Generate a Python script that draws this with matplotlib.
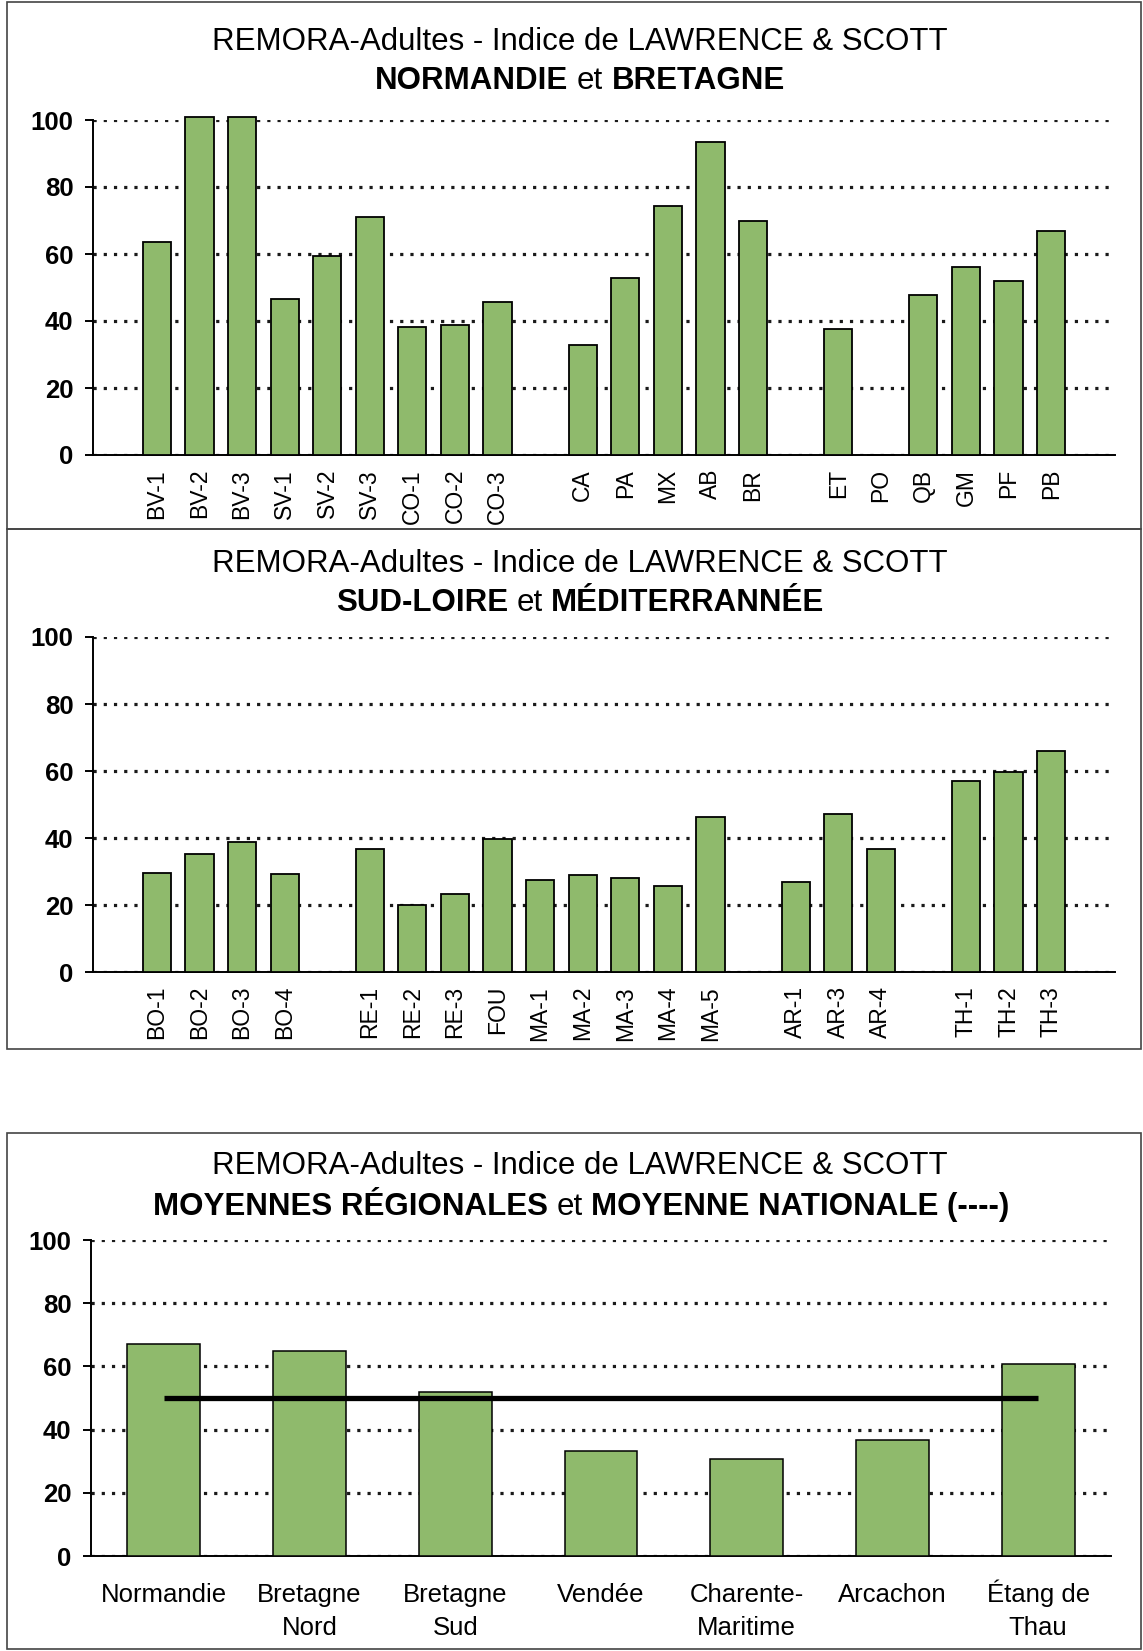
import numpy as np
import matplotlib.pyplot as plt
from matplotlib.offsetbox import TextArea, HPacker, AnchoredOffsetbox
from matplotlib.patches import Rectangle

plt.rcParams['font.family'] = ['Liberation Sans', 'DejaVu Sans']

W, H = 1143, 1651
GREEN = '#8fba6c'
nan = np.nan

# Normandie et Bretagne ('' = empty slot between groups)
nb_labels = ['', 'BV-1', 'BV-2', 'BV-3', 'SV-1', 'SV-2', 'SV-3', 'CO-1', 'CO-2', 'CO-3',
             '', 'CA', 'PA', 'MX', 'AB', 'BR',
             '', 'ET', 'PO', 'QB', 'GM', 'PF', 'PB', '']
nb_values = [nan, 63.5, 101, 101, 46.6, 59.4, 70.9, 38.1, 38.9, 45.8,
             nan, 32.8, 52.8, 74.4, 93.4, 69.8,
             nan, 37.6, 0, 47.7, 56.1, 51.8, 67.0, nan]

# Sud-Loire et Mediterranee
sm_labels = ['', 'BO-1', 'BO-2', 'BO-3', 'BO-4',
             '', 'RE-1', 'RE-2', 'RE-3', 'FOU', 'MA-1', 'MA-2', 'MA-3', 'MA-4', 'MA-5',
             '', 'AR-1', 'AR-3', 'AR-4',
             '', 'TH-1', 'TH-2', 'TH-3', '']
sm_values = [nan, 29.5, 35.2, 38.8, 29.3,
             nan, 36.6, 20.1, 23.2, 39.7, 27.4, 28.9, 28.0, 25.6, 46.3,
             nan, 26.9, 47.3, 36.7,
             nan, 57.0, 59.6, 66.1, nan]

# Moyennes regionales
regions = ['Normandie', 'Bretagne\nNord', 'Bretagne\nSud', 'Vendée',
           'Charente-\nMaritime', 'Arcachon', 'Étang de\nThau']
region_means = [67.0, 64.8, 52.0, 33.3, 30.6, 36.8, 60.9]
national_mean = 49.9

yticks = [0, 20, 40, 60, 80, 100]
TITLE_FS = 22.5

fig = plt.figure(figsize=(W / 100, H / 100), dpi=100)


def px_axes(left, right, top, bottom):
    return fig.add_axes([left / W, 1 - bottom / H, (right - left) / W, (bottom - top) / H])


def style_axes(ax):
    ax.set_ylim(0, 100)
    ax.set_yticks(yticks)
    ax.set_yticklabels([str(t) for t in yticks], fontsize=18.5, fontweight='bold')
    ax.yaxis.grid(True, color='#1a1a1a', linestyle=(0, (1, 2.2)), linewidth=2.3,
                  dash_capstyle='butt')
    ax.set_axisbelow(True)
    for s in ['top', 'right']:
        ax.spines[s].set_visible(False)
    for s in ['left', 'bottom']:
        ax.spines[s].set_color('black')
        ax.spines[s].set_linewidth(1.4)
    ax.tick_params(axis='y', direction='out', length=6, width=1.4, pad=8)
    ax.tick_params(axis='x', length=0)


def title(parts, y_px, x_px=580):
    boxes = [TextArea(s, textprops=dict(fontsize=TITLE_FS, fontweight=w)) for s, w in parts]
    pack = HPacker(children=boxes, align='baseline', pad=0, sep=6)
    box = AnchoredOffsetbox(loc='center', child=pack, pad=0, borderpad=0, frameon=False,
                            bbox_to_anchor=(x_px / W, 1 - y_px / H),
                            bbox_transform=fig.transFigure)
    fig.add_artist(box)


def station_panel(ax, labels, values):
    x = np.arange(len(labels))
    v = np.array(values, dtype=float)
    ok = ~np.isnan(v)
    ax.bar(x[ok], v[ok], width=0.66, color=GREEN, edgecolor='black', linewidth=1.3,
           clip_on=False, zorder=3)
    ax.set_xlim(-0.5, len(labels) - 0.5)
    style_axes(ax)
    ax.set_xticks(x)
    ax.set_xticklabels(labels, rotation=90, fontsize=16.5)
    ax.tick_params(axis='x', pad=10)


# panel frames
for top, bottom in [(2, 529), (529, 1049), (1133, 1649)]:
    fig.add_artist(Rectangle((7 / W, 1 - bottom / H), (1141 - 7) / W, (bottom - top) / H,
                             transform=fig.transFigure, fill=False,
                             edgecolor='#444444', linewidth=1.2))

head = 'REMORA-Adultes - Indice de LAWRENCE & SCOTT'

# panel 1
ax1 = px_axes(93, 1115, 120, 455)
station_panel(ax1, nb_labels, nb_values)
fig.text(580 / W, 1 - 42 / H, head, ha='center', va='center', fontsize=TITLE_FS)
title([('NORMANDIE', 'bold'), ('et', 'normal'), ('BRETAGNE', 'bold')], 81)

# panel 2
ax2 = px_axes(93, 1115, 637, 972)
station_panel(ax2, sm_labels, sm_values)
fig.text(580 / W, 1 - 564 / H, head, ha='center', va='center', fontsize=TITLE_FS)
title([('SUD-LOIRE', 'bold'), ('et', 'normal'), ('MÉDITERRANNÉE', 'bold')], 603)

# panel 3
ax3 = px_axes(91, 1111, 1240, 1556)
xr = np.arange(len(regions))
ax3.bar(xr, region_means, width=0.5, color=GREEN, edgecolor='black', linewidth=1.1,
        zorder=3)
ax3.plot(xr, np.full(len(regions), national_mean), color='black', linewidth=3.8,
         solid_capstyle='butt', zorder=4)
ax3.set_xlim(-0.5, len(regions) - 0.5)
style_axes(ax3)
ax3.set_xticks(xr)
ax3.set_xticklabels([])
# category names, one line at a time so every first line shares its baseline
for xi, name in zip(xr, regions):
    for k, line in enumerate(name.split('\n')):
        ax3.annotate(line, xy=(xi, 0), xycoords=('data', 'axes fraction'),
                     xytext=(0, -33 - 24 * k), textcoords='offset points',
                     ha='center', va='baseline', fontsize=18.5)
fig.text(580 / W, 1 - 1166 / H, head, ha='center', va='center', fontsize=TITLE_FS)
title([('MOYENNES RÉGIONALES', 'bold'), ('et', 'normal'),
       ('MOYENNE NATIONALE (----)', 'bold')], 1207, 581)

fig.savefig('out.png', dpi=100)
